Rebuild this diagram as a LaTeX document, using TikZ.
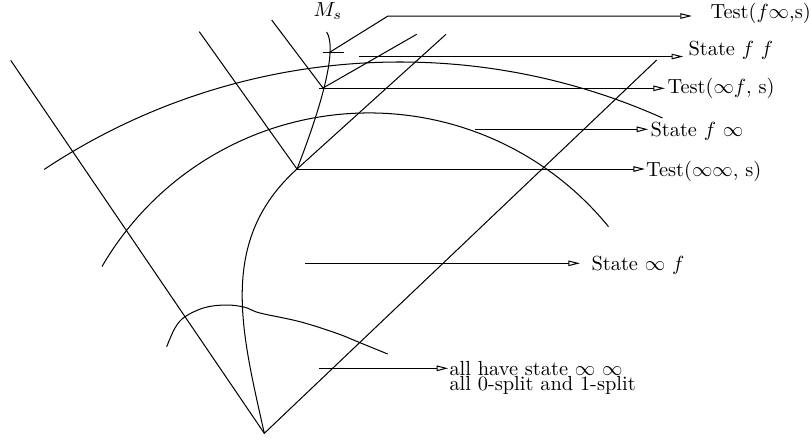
\documentclass[tikz,border=0pt]{standalone}
\usetikzlibrary{arrows.meta}
\begin{document}
\begin{tikzpicture}[x=0.49pt,y=-0.49pt, line width=0.5pt,
  arr/.style={-{Triangle[open,length=5.7pt,width=2.7pt,fill=white]}},
  lbl/.style={anchor=base west, inner sep=0pt, font=\fontsize{10}{12}\selectfont}]
\useasboundingbox (0,0) rectangle (811,441);
% main points
\coordinate (V) at (264.3,433.3);
\coordinate (L) at (10.7,60.3);
\coordinate (R) at (656.7,60);
\coordinate (J1) at (297,169);
\coordinate (J2) at (323,88);
\coordinate (A1) at (199.3,31.7);
\coordinate (A2) at (271.7,20);
\coordinate (B1) at (446,34.3);
\coordinate (B2) at (416.7,34.3);
\coordinate (MT) at (326.7,32);
% cone edges and rays
\draw (L) -- (V) -- (R);
\draw (A1) -- (J1) -- (B1);
\draw (A2) -- (J2) -- (B2);
% arcs
\draw (44.2,169.4) arc[start angle=-123.6, end angle=-65.9, radius=643];
\draw (102,266.5) arc[start angle=-149.8, end angle=-39.2, radius=309];
% M_s curve
\draw (V) .. controls (241.9,332.5) and (217,241) .. (J1);
\draw (J1) .. controls (320,110) and (338,50) .. (MT);
\node[lbl] (ms) at (313,16.7) {$M_s$};
% small bottom curve
\draw plot[smooth, tension=0.6] coordinates {(166.7,346.7) (175,328) (185,316.7) (205,307.5) (226.7,305) (245,307.3) (260,313) (300,321.7) (336.7,333.3) (360,342.7) (387.7,354)};
% tick
\coordinate (k1) at (322.7,52.7);
\coordinate (k2) at (344.3,52.7);
\draw (k1) -- (k2);
% arrows and labels
\coordinate (s1) at (329,52.7);
\coordinate (c1) at (388,16);
\coordinate (t1) at (692,16);
\draw[arr] (s1) -- (c1) -- (t1);
\node[lbl] (n1) at (710,18.3) {Test($f\infty$,s)};
\coordinate (s2) at (359.3,56.5);
\coordinate (t2) at (683.3,56.5);
\draw[arr] (s2) -- (t2);
\node[lbl] (n2) at (688,55) {State $f$ $f$};
\coordinate (s3) at (319,88.3);
\coordinate (t3) at (665,88.3);
\draw[arr] (s3) -- (t3);
\node[lbl] (n3) at (667,93.3) {Test($\infty f$, s)};
\coordinate (s4) at (475,129.3);
\coordinate (t4) at (648.3,129.3);
\draw[arr] (s4) -- (t4);
\node[lbl] (n4) at (650,136) {State $f$ $\infty$};
\coordinate (t5) at (645,169);
\draw[arr] (J1) -- (t5);
\node[lbl] (n5) at (645.5,176) {Test($\infty\infty$, s)};
\coordinate (s6) at (305,263.3);
\coordinate (t6) at (580,263.3);
\draw[arr] (s6) -- (t6);
\node[lbl] (n6) at (591,270) {State $\infty$ $f$};
\coordinate (s7) at (319.3,368.3);
\coordinate (t7) at (448.3,368.3);
\draw[arr] (s7) -- (t7);
\node[lbl, anchor=north west, align=left] (n7) at (449,360.8)
  {all have state $\infty$ $\infty$\\[-4.4pt]all 0-split and 1-split};
\end{tikzpicture}
\end{document}
